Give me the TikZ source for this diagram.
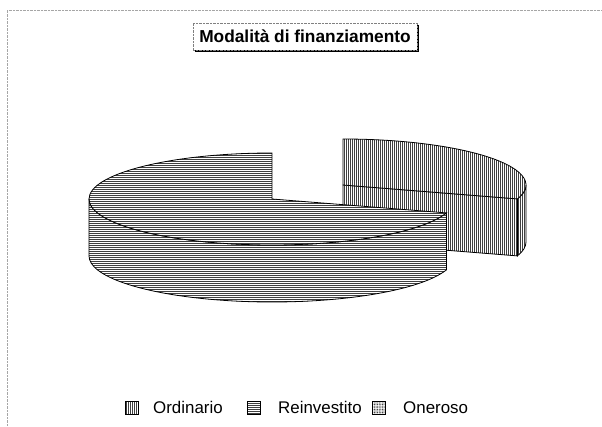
\documentclass[tikz,border=0pt]{standalone}
\usepackage{fontspec}
\setmainfont{Liberation Sans}
\usepackage{tikz}
\usetikzlibrary{calc, patterns.meta, shadows}

\tikzset{
	reinvestito/.style = {draw, line width = .8pt, preaction = {fill = white}, pattern = {Lines[angle = 0, distance = 2pt, line width = .85pt]}, pattern color = black!75},
	ordinario/.style = {draw, line width = .8pt, preaction = {fill = white}, pattern = {Lines[angle = 90, distance = 2pt, line width = .85pt]}, pattern color = black!75},
	oneroso/.style = {draw, line width = .8pt, preaction = {fill = white}, pattern = {Dots[radius = .55pt, distance = 1.6pt]}, pattern color = black!80},
	legend box/.style = {minimum size = 12.5pt, inner sep = 0pt},
	legend label/.style = {anchor = west, inner sep = 0pt, font = \fontsize{16.9}{18}\selectfont},
	title box/.style = {draw = gray, densely dotted, fill = white, minimum width = 224pt, minimum height = 27pt, font = \bfseries\fontsize{17.3}{20}\selectfont, drop shadow = {shadow xshift = 2pt, shadow yshift = -2pt, fill = black, opacity = 1}}
}

\begin{document}
\begin{tikzpicture}[x = 1pt, y = 1pt]
		\def\rx{183};
		\def\ry{46};
		\def\h{57};
		\def\cut{-17.6};
		\def\cutb{342.4};
		
		\useasboundingbox (0,0) rectangle (602,-427);
		
		\coordinate (main center) at (272,-199);
		\coordinate (ordinario center) at (343,-185);
		\coordinate (frame corner) at (7,-10);
		
		\draw [gray!70, densely dotted] (7,-427) -- (frame corner) -- (602,-10);
		
		\draw [ordinario] (ordinario center) -- ++({\rx*cos(\cut)},{\ry*sin(\cut)}) -- ++(0,-\h) -- ($(ordinario center) + (0,-\h)$) -- cycle;
		\draw [ordinario] (ordinario center) ++({\rx*cos(\cut)},{\ry*sin(\cut)}) arc [start angle = \cut, end angle = 0, x radius = \rx, y radius = \ry] -- ++(0,-\h) arc [start angle = 0, end angle = \cut, x radius = \rx, y radius = \ry] -- cycle;
		\draw [ordinario] (ordinario center) -- ++({\rx*cos(\cut)},{\ry*sin(\cut)}) arc [start angle = \cut, end angle = 90, x radius = \rx, y radius = \ry] -- cycle;
		
		\draw [reinvestito] (main center) ++(-\rx,0) arc [start angle = 180, end angle = \cutb, x radius = \rx, y radius = \ry] -- ++(0,-\h) arc [start angle = \cutb, end angle = 180, x radius = \rx, y radius = \ry] -- cycle;
		\draw [reinvestito] (main center) -- ++(0,\ry) arc [start angle = 90, end angle = \cutb, x radius = \rx, y radius = \ry] -- cycle;
		
		\node [title box] (title) at (305,-36.5) {Modalità di finanziamento};
		
		\node [legend box, ordinario] (ordinario box) at (132,-408) {};
		\node [legend label] (ordinario label) at (153,-407.5) {Ordinario};
		\node [legend box, reinvestito] (reinvestito box) at (254,-408) {};
		\node [legend label] (reinvestito label) at (278,-407.5) {Reinvestito};
		\node [legend box, oneroso] (oneroso box) at (379,-408) {};
		\node [legend label] (oneroso label) at (403,-407.5) {Oneroso};
	\end{tikzpicture}
\end{document}
